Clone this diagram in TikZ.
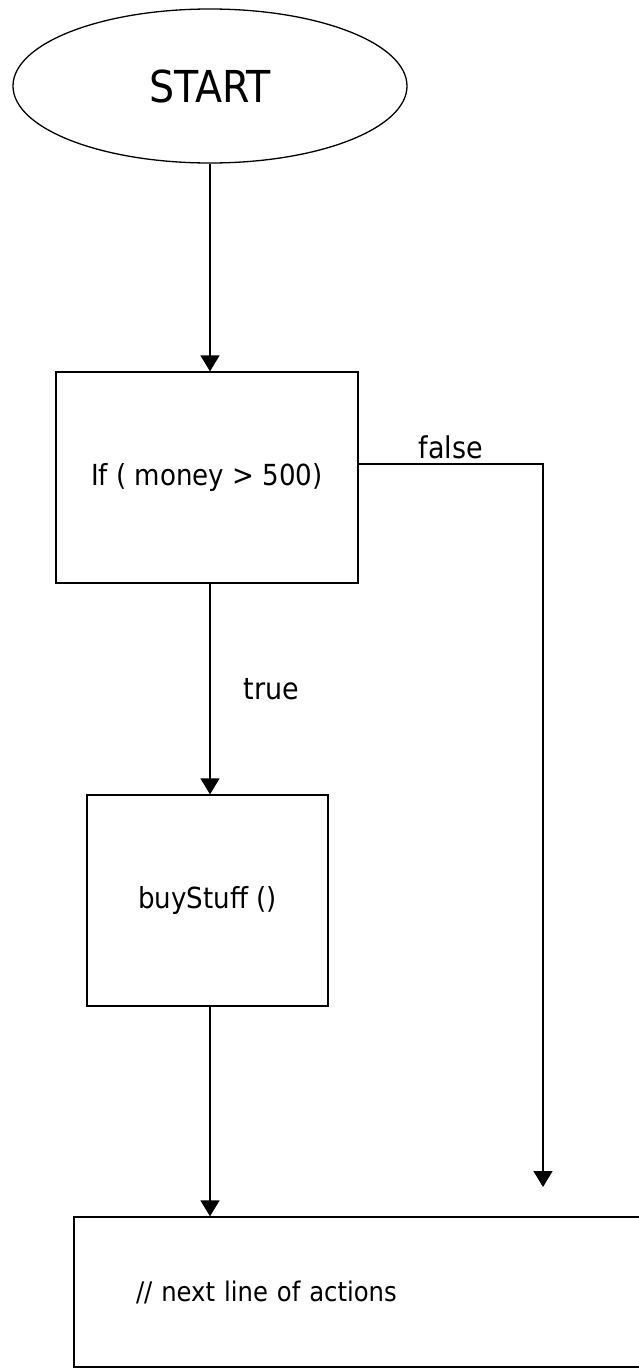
\documentclass[tikz,border=0pt]{standalone}
\usepackage{fontspec}
\setmainfont{DejaVu Sans Condensed}
\usepackage{tikz}
\usetikzlibrary{shapes.geometric, arrows.meta, positioning}

\begin{document}
\begin{tikzpicture}[
        x=1pt, y=-1pt,
        terminal/.style={
            ellipse, draw, line width=1.3pt,
            minimum width=394pt, minimum height=154pt,
            font=\fontsize{44}{50}\selectfont
        },
        process/.style={
            rectangle, draw, line width=1.3pt,
            minimum width=241pt, minimum height=211pt,
            font=\fontsize{29}{34}\selectfont
        },
        flowlabel/.style={font=\fontsize{30}{36}\selectfont},
        flow/.style={draw, line width=1.3pt, -{Triangle[length=16pt, width=19pt]}}
    ]
        \useasboundingbox (0,0) rectangle (639,1368);

        \node[terminal] (start) at (210, 86) {START};
        \node[process, minimum width=302pt] (cond) at (207, 477.5) {If ( money > 500)};
        \node[process] (buy) at (207.5, 900.5) {buyStuff ()};
        \node[process, minimum width=0pt, minimum height=150pt,
              text width=447pt, inner xsep=62pt, align=left,
              font=\fontsize{27}{32}\selectfont] (next) at (359.5, 1292) {// next line of actions};
        \coordinate (falseend) at (543, 1187);

        \draw[flow] (start) -- (start |- cond.north);
        \draw[flow] (cond.south -| start) -- node[flowlabel, right=30pt] {true} (buy.north -| start);
        \draw[flow] (buy.south -| start) -- (next.north -| start);
        \draw[flow] ([yshift=13.5pt]cond.east) -| node[flowlabel, pos=0.25, above=1pt] {false} (falseend);
    \end{tikzpicture}
\end{document}
